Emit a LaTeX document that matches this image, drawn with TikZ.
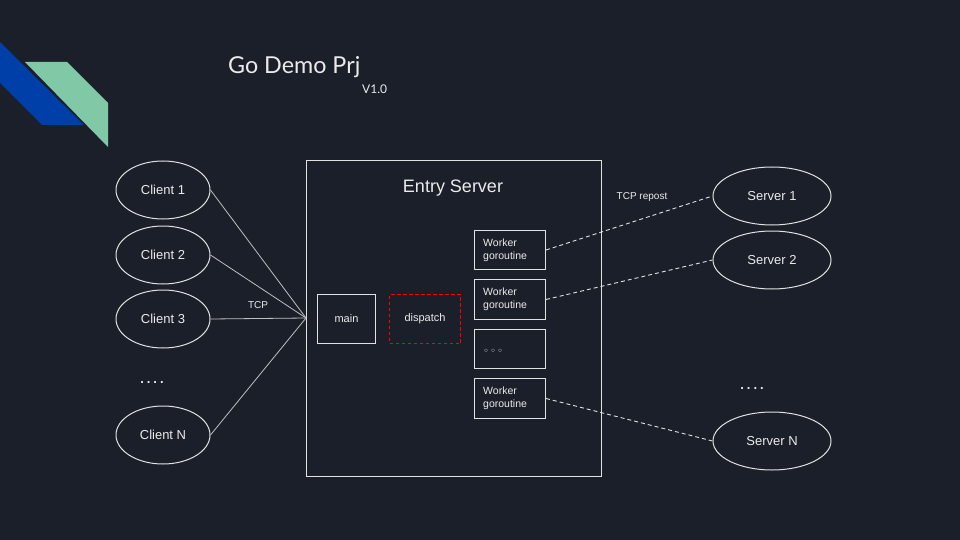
\documentclass[tikz,border=0pt]{standalone}
\usepackage{fontspec}
\setmainfont{Liberation Sans}
\newfontfamily\latofont{Lato}
\newfontfamily\dejafont{DejaVu Sans}
\usetikzlibrary{shapes.geometric}
\definecolor{bgc}{RGB}{27,31,42}
\definecolor{blueshape}{RGB}{1,63,168}
\definecolor{greenshape}{RGB}{129,201,166}
\definecolor{linec}{RGB}{225,225,225}
\definecolor{textc}{RGB}{235,235,235}
\newcommand{\fourdots}{.\kern3pt.\kern3pt.\kern3pt.}
\begin{document}
\begin{tikzpicture}[x=1pt,y=-1pt,
  every node/.style={text=textc},
  endpoint/.style={ellipse,draw=linec,line width=1pt,minimum width=94pt,minimum height=58pt,inner sep=0pt,font=\fontsize{13}{15}\selectfont},
  srvpoint/.style={endpoint,minimum width=118pt},
  boxnode/.style={draw=linec,line width=1pt,inner sep=0pt,anchor=north west},
  workerbox/.style={boxnode,minimum width=71pt,minimum height=39pt},
  workertext/.style={anchor=west,align=left,font=\fontsize{10.5}{13}\selectfont,inner sep=0pt},
  tcpline/.style={draw=linec!85!black,line width=0.8pt},
  repostline/.style={draw=linec,line width=0.9pt,dash pattern=on 4pt off 3pt},
  smalllabel/.style={font=\fontsize{10}{12}\selectfont,inner sep=0pt},
  dotslabel/.style={font=\bfseries\fontsize{13}{15}\selectfont,inner sep=0pt}]
\useasboundingbox (0,0) rectangle (960,540);
\fill[bgc] (0,0) rectangle (960,540);
% decorative shapes
\fill[blueshape] (0,42) -- (84,125) -- (42,125) -- (0,83) -- cycle;
\fill[greenshape] (25,62) -- (67,62) -- (108,103) -- (108,147) -- cycle;
% title
\node[anchor=west,inner sep=0pt,font=\latofont\fontsize{23.3}{26}\selectfont] (title) at (228,67) {Go Demo Prj};
\node[anchor=west,inner sep=0pt,font=\latofont\fontsize{12}{14}\selectfont] (ver) at (362,89) {V1.0};
% entry server
\node[boxnode,minimum width=295pt,minimum height=316pt] (entry) at (306,160) {};
\node[inner sep=0pt,font=\fontsize{18}{20}\selectfont] (entrylabel) at (453,188) {Entry Server};
\node[boxnode,minimum width=58pt,minimum height=49pt] (main) at (317,294) {};
\node[font=\fontsize{11}{13}\selectfont,inner sep=0pt] at (main.center) {main};
\node[boxnode,draw=red,line width=1.5pt,outer sep=0pt,dash pattern=on 3.5pt off 2.5pt,minimum width=71pt,minimum height=49pt] (dispatch) at (389.5,294.5) {};
\node[font=\fontsize{11}{13}\selectfont,inner sep=0pt] at (dispatch.center) {dispatch};
\node[workerbox] (w1) at (474,230) {};
\node[workerbox,minimum height=40pt] (w2) at (474,279) {};
\node[workerbox] (w3) at (474,329) {};
\node[workerbox,minimum height=40pt] (w4) at (474,378) {};
\node[workertext] at ([xshift=9pt]w1.west) {Worker\\goroutine};
\node[workertext] at ([xshift=9pt]w2.west) {Worker\\goroutine};
\node[workertext,font=\dejafont\fontsize{10}{11}\selectfont] at ([xshift=9pt,yshift=-3pt]w3.west) {◦\kern1pt◦\kern1pt◦};
\node[workertext] at ([xshift=9pt]w4.west) {Worker\\goroutine};
% clients
\node[endpoint] (c1) at (163,190) {Client 1};
\node[endpoint] (c2) at (163,255) {Client 2};
\node[endpoint] (c3) at (163,319) {Client 3};
\node[endpoint] (cn) at (163,435) {Client N};
\node[dotslabel] (cdots) at (152,383) {\fourdots};
% servers
\node[srvpoint] (s1) at (772,196) {Server 1};
\node[srvpoint] (s2) at (772,260) {Server 2};
\node[srvpoint] (sn) at (772,441) {Server N};
\node[dotslabel] (sdots) at (752,389) {\fourdots};
% connectors
\coordinate (hub) at (306,318);
\draw[tcpline] (c1.east) -- (hub);
\draw[tcpline] (c2.east) -- (hub);
\draw[tcpline] (c3.east) -- (hub);
\draw[tcpline] (cn.east) -- (hub);
\node[smalllabel] (tcp) at (258,305) {TCP};
\draw[repostline] (w1.east) -- (s1.west);
\draw[repostline] (w2.east) -- (s2.west);
\draw[repostline] (w4.east) -- (sn.west);
\node[smalllabel] (repost) at (642,197) {TCP repost};
\end{tikzpicture}
\end{document}
